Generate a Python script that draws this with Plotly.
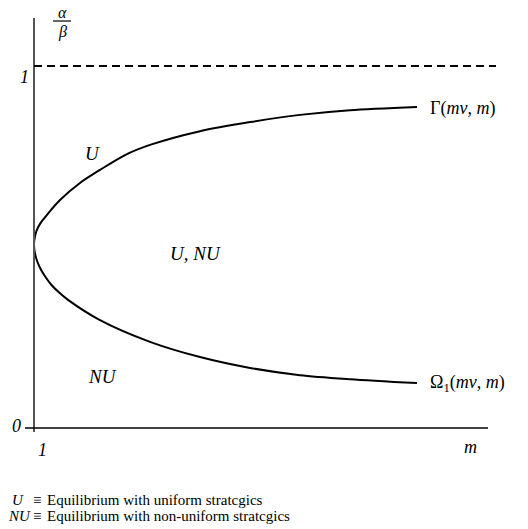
import plotly.graph_objects as go

# data (m, alpha/beta)
upper_m = [1.0, 1.02, 1.06, 1.13, 1.22, 1.35, 1.52, 1.92, 2.32, 2.82, 3.32, 4.32, 5.32, 6.32, 7.32, 8.66]
upper_y = [0.506, 0.530, 0.548, 0.566, 0.582, 0.604, 0.630, 0.677, 0.713, 0.754, 0.782, 0.820, 0.845, 0.865, 0.878, 0.887]
lower_m = [1.0, 1.02, 1.06, 1.13, 1.22, 1.35, 1.52, 1.68, 2.32, 3.32, 4.32, 5.32, 6.32, 7.32, 8.66]
lower_y = [0.506, 0.482, 0.462, 0.440, 0.419, 0.395, 0.372, 0.354, 0.298, 0.238, 0.196, 0.166, 0.146, 0.135, 0.124]
asymptote = 1.0

W, H = 528, 529
def X(px):
    return 1 + (px - 34) / 50.0
def Y(py):
    return (428 - py) / 362.0

curve_m = lower_m[::-1] + upper_m[1:]
curve_y = lower_y[::-1] + upper_y[1:]

fig = go.Figure()
fig.add_trace(go.Scatter(x=curve_m, y=curve_y, mode="lines",
                         line=dict(color="black", width=2, shape="spline", smoothing=0.8),
                         hoverinfo="skip", showlegend=False))

shapes = [
    dict(type="line", x0=1, x1=1, y0=Y(432), y1=Y(18), line=dict(color="#555555", width=2)),
    dict(type="line", x0=X(25), x1=X(488), y0=0, y1=0, line=dict(color="black", width=1.5)),
    dict(type="line", x0=1, x1=X(496), y0=asymptote, y1=asymptote,
         line=dict(color="black", width=2, dash="8px,5px")),
    dict(type="line", x0=X(53), x1=X(71), y0=Y(21), y1=Y(21), line=dict(color="black", width=1.2)),
]

F = "Liberation Serif"
def ann(text, px, py, size=16, xanchor="center", italic=False):
    t = f"<i>{text}</i>" if italic else text
    return dict(text=t, x=X(px), y=Y(py), xref="x", yref="y", showarrow=False,
                xanchor=xanchor, yanchor="middle", font=dict(family=F, size=size, color="black"))

annotations = [
    ann("α", 62, 12, 16, italic=True),
    ann("β", 62, 32, 16, italic=True),
    ann("1", 24, 77, 18, italic=True),
    ann("0", 16, 426, 18, italic=True),
    ann("1", 42, 450, 18, italic=True),
    ann("m", 470, 447, 18, italic=True),
    ann("U", 92, 153, 19, italic=True),
    ann("U, NU", 195, 253, 19, italic=True),
    ann("NU", 102, 376, 19, italic=True),
    ann("Γ(<i>mv</i>, <i>m</i>)", 428, 108, 18, xanchor="left"),
    ann("Ω<sub>1</sub>(<i>mv</i>, <i>m</i>)", 428, 383, 18, xanchor="left"),
    ann("U", 10, 500, 15, xanchor="left", italic=True),
    ann("≡", 31, 500, 15, xanchor="left"),
    ann("Equilibrium with uniform stratcgics", 45, 500, 15, xanchor="left"),
    ann("NU", 6, 516, 15, xanchor="left", italic=True),
    ann("≡", 31, 516, 15, xanchor="left"),
    ann("Equilibrium with non-uniform stratcgics", 45, 516, 15, xanchor="left"),
]

fig.update_layout(
    width=W, height=H, margin=dict(l=0, r=0, t=0, b=0),
    paper_bgcolor="white", plot_bgcolor="white",
    xaxis=dict(range=[X(0), X(W)], visible=False, fixedrange=True),
    yaxis=dict(range=[Y(H), Y(0)], visible=False, fixedrange=True),
    shapes=shapes, annotations=annotations, showlegend=False,
)
fig.write_html("out.html", config={"displayModeBar": False},
               post_script="document.body.style.margin='0px';document.body.style.overflow='hidden';")
